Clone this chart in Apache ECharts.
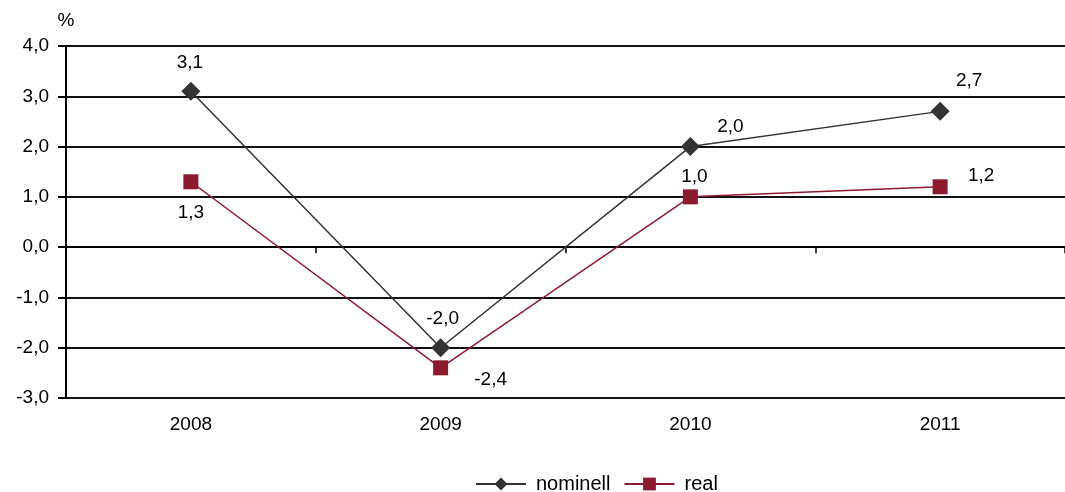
<!DOCTYPE html>
<html>
<head>
<meta charset="utf-8">
<script src="https://cdn.jsdelivr.net/npm/echarts@6/dist/echarts.min.js"></script>
<style>
html,body{margin:0;padding:0;background:#fff;}
#chart{width:1065px;height:492px;}
</style>
</head>
<body>
<div id="chart"></div>
<script>
var categories = ['2008', '2009', '2010', '2011'];
var nominell = [3.1, -2.0, 2.0, 2.7];
var real = [1.3, -2.4, 1.0, 1.2];
var yTicks = { min: -3, max: 4, interval: 1 };

var FONT = '"Liberation Sans", Arial, sans-serif';
var FS = 19;
var fmt = function (v) { return v.toFixed(1).replace('.', ','); };

// label offsets relative to marker centre (style only)
var nomOffsets = [[-1, -28], [2, -29], [40, -20], [29, -31]];
var realOffsets = [[0, 31], [50, 12], [4, -20], [41, -11]];

function build(values, offsets) {
  return values.map(function (v, i) {
    return { value: v, label: { offset: offsets[i] } };
  });
}

var chart = echarts.init(document.getElementById('chart'), null, { renderer: 'canvas' });
chart.setOption({
  animation: false,
  backgroundColor: '#fff',
  textStyle: { fontFamily: FONT },
  grid: { left: 66, right: 0, top: 46, bottom: 94, containLabel: false },
  legend: {
    left: 470, top: 469,
    itemWidth: 50, itemHeight: 16, itemGap: 13,
    textStyle: { fontFamily: FONT, fontSize: 20, color: '#000', padding: [0, 0, 0, 5] },
    data: ['nominell', 'real']
  },
  xAxis: [{
    type: 'category',
    data: categories,
    boundaryGap: true,
    axisLine: { onZero: true, lineStyle: { color: '#000', width: 2 } },
    axisTick: { show: true, length: 6, lineStyle: { color: '#000', width: 1.5 } },
    axisLabel: { show: false },
    splitLine: { show: false }
  }, {
    type: 'category',
    data: categories,
    position: 'bottom',
    boundaryGap: true,
    axisLine: { show: false, onZero: false },
    axisTick: { show: false },
    axisLabel: { show: true, margin: 17, fontFamily: FONT, fontSize: FS, color: '#000' },
    splitLine: { show: false }
  }],
  yAxis: {
    type: 'value',
    min: yTicks.min, max: yTicks.max, interval: yTicks.interval,
    name: '%',
    nameLocation: 'end',
    nameGap: 16,
    nameTextStyle: { fontFamily: FONT, fontSize: FS, color: '#000', align: 'center' },
    axisLine: { show: true, lineStyle: { color: '#000', width: 2 } },
    axisTick: { show: true, length: 8, lineStyle: { color: '#000', width: 2 } },
    axisLabel: { margin: 17, fontFamily: FONT, fontSize: FS, color: '#000', formatter: fmt },
    splitLine: { show: true, lineStyle: { color: '#111', width: 2 } }
  },
  series: [{
    name: 'nominell',
    type: 'line',
    xAxisIndex: 0,
    data: build(nominell, nomOffsets),
    symbol: 'diamond',
    symbolSize: [19, 19],
    itemStyle: { color: '#333333' },
    lineStyle: { color: '#333333', width: 1.5 },
    label: { show: true, position: 'inside', fontFamily: FONT, fontSize: FS, color: '#000', formatter: function (p) { return fmt(p.value); } },
    z: 3
  }, {
    name: 'real',
    type: 'line',
    xAxisIndex: 0,
    data: build(real, realOffsets),
    symbol: 'rect',
    symbolSize: 15,
    itemStyle: { color: '#8C1B2F' },
    lineStyle: { color: '#8C1B2F', width: 1.5 },
    label: { show: true, position: 'inside', fontFamily: FONT, fontSize: FS, color: '#000', formatter: function (p) { return fmt(p.value); } },
    z: 2
  }]
});
</script>
</body>
</html>
